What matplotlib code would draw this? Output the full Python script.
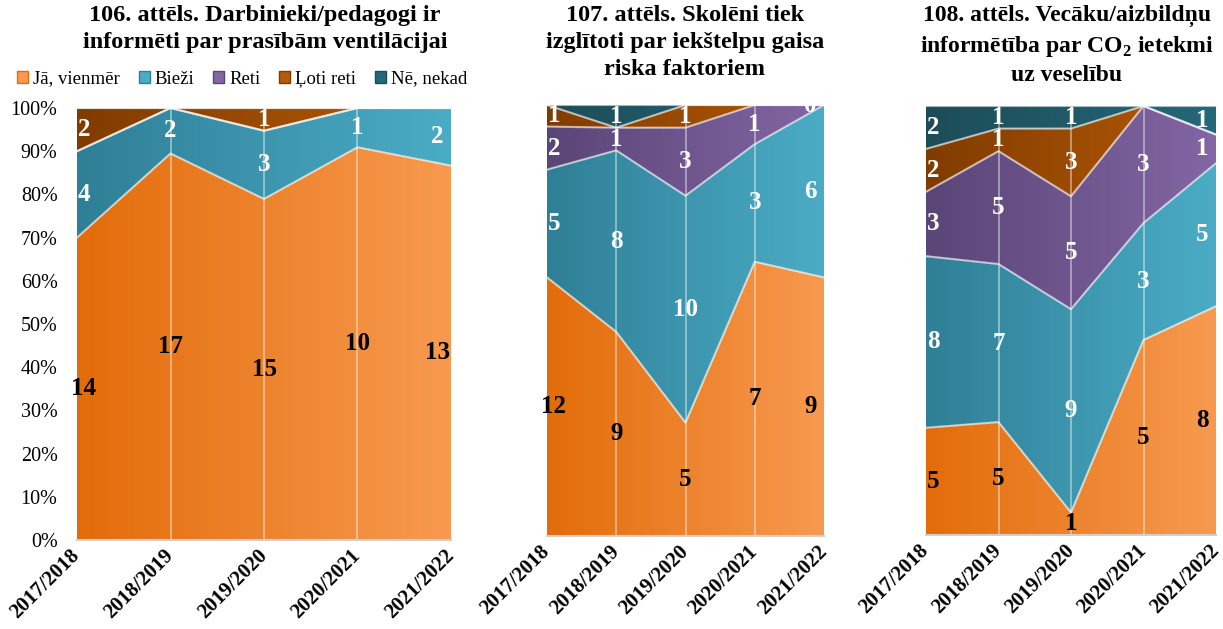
import matplotlib
matplotlib.use("Agg")
import matplotlib.pyplot as plt
import numpy as np
from matplotlib.colors import LinearSegmentedColormap
from matplotlib.patches import Patch

plt.rcParams['font.family'] = ['Liberation Serif', 'DejaVu Serif']

years = ['2017/2018', '2018/2019', '2019/2020', '2020/2021', '2021/2022']
series_names = ['Jā, vienmēr', 'Bieži', 'Reti', 'Ļoti reti', 'Nē, nekad']
nan = np.nan

# counts per chart (nan = no label in the original)
c106_ja = [14, 17, 15, 10, 13]
c106_biezi = [4, 2, 3, 1, 2]
c106_reti = [nan, nan, nan, nan, nan]
c106_loti = [2, nan, 1, nan, nan]
c106_ne = [nan, nan, nan, nan, nan]

c107_ja = [12, 9, 5, 7, 9]
c107_biezi = [5, 8, 10, 3, 6]
c107_reti = [2, 1, 3, 1, 0]
c107_loti = [1, nan, 1, nan, nan]
c107_ne = [nan, 1, nan, nan, nan]

c108_ja = [5, 5, 1, 5, 8]
c108_biezi = [8, 7, 9, 3, 5]
c108_reti = [3, 5, 5, 3, 1]
c108_loti = [2, 1, 3, nan, nan]
c108_ne = [2, 1, 1, nan, 1]

titles = ['106. attēls. Darbinieki/pedagogi ir\ninformēti par prasībām ventilācijai',
          '107. attēls. Skolēni tiek\nizglītoti par iekštelpu gaisa\nriska faktoriem',
          '108. attēls. Vecāku/aizbildņu\ninformētība par CO$_\\mathregular{2}$ ietekmi\nuz veselību']

# gradient colours (left, right) per series
grad = [('#E36C0A', '#F79A50'),
        ('#2F7F96', '#4BACC6'),
        ('#5A4577', '#8366A4'),
        ('#7F3C00', '#B75A06'),
        ('#1D4C58', '#24687A')]
label_colors = ['black', 'white', 'white', 'white', 'white']


def draw_chart(ax, data):
    arr = np.array(data, dtype=float)
    vals = np.nan_to_num(arr)
    totals = vals.sum(axis=0)
    share = vals / totals
    cum = np.vstack([np.zeros(len(years)), np.cumsum(share, axis=0)])
    x = np.arange(len(years))
    for i in range(len(series_names)):
        poly = ax.fill_between(x, cum[i], cum[i + 1], facecolor='none', edgecolor='none')
        cmap = LinearSegmentedColormap.from_list('g%d' % i, grad[i])
        im = ax.imshow(np.linspace(0, 1, 256).reshape(1, -1), cmap=cmap, aspect='auto',
                       extent=[0, 4, 0, 1], origin='lower', zorder=1)
        im.set_clip_path(poly.get_paths()[0], transform=ax.transData)
    for i in range(1, len(cum)):
        ax.plot(x, cum[i], color='white', alpha=0.6, lw=1.5, zorder=3)
    for xi in x[1:-1]:
        ax.axvline(xi, color='white', alpha=0.45, lw=1.3, zorder=2)
    for i in range(len(series_names)):
        for j in x:
            if np.isnan(arr[i, j]):
                continue
            mid = (cum[i, j] + cum[i + 1, j]) / 2
            dx = 5 if j == 0 else (-10 if j == len(x) - 1 else 0)
            ax.annotate('%d' % arr[i, j], (j, mid), xytext=(dx, 0), textcoords='offset points',
                        ha='center', va='center', fontsize=18, fontweight='bold',
                        color=label_colors[i], zorder=5)
    ax.set_xlim(0, 4)
    ax.set_ylim(0, 1)
    ax.set_xticks(x)
    ax.set_xticklabels(years, rotation=45, ha='right', va='center', rotation_mode='anchor',
                       fontsize=15, fontweight='bold')
    ax.tick_params(length=0, pad=9)
    for s in ['left', 'top', 'right']:
        ax.spines[s].set_visible(False)
    ax.spines['bottom'].set_color('#d0d0d0')
    ax.spines['bottom'].set_linewidth(1.5)


fig = plt.figure(figsize=(12.23, 6.29), dpi=100)
W, H = 1223, 629
ax1 = fig.add_axes([77 / W, 1 - 540 / H, 374 / W, 432 / H])
ax2 = fig.add_axes([547 / W, 1 - 536 / H, 277 / W, 431 / H])
ax3 = fig.add_axes([926 / W, 1 - 535 / H, 290 / W, 429 / H])

draw_chart(ax1, [c106_ja, c106_biezi, c106_reti, c106_loti, c106_ne])
draw_chart(ax2, [c107_ja, c107_biezi, c107_reti, c107_loti, c107_ne])
draw_chart(ax3, [c108_ja, c108_biezi, c108_reti, c108_loti, c108_ne])

ax1.set_yticks(np.arange(0, 1.01, 0.1))
ax1.set_yticklabels(['%d%%' % v for v in range(0, 101, 10)], fontsize=14.5)
ax1.tick_params(axis='y', pad=14)
for ax in (ax2, ax3):
    ax.set_yticks([])

for cx, t, fs in zip([265, 685, 1067], titles, [17.5, 17.5, 17]):
    fig.text(cx / W, 1 - 5 / H, t, ha='center', va='top', fontsize=fs,
             fontweight='bold', linespacing=1.38)

handles = [Patch(facecolor=grad[i][1], edgecolor=grad[i][0]) for i in range(len(series_names))]
fig.legend(handles, series_names, loc='center', bbox_to_anchor=(242 / W, 1 - 79 / H), ncol=5,
           frameon=False, fontsize=13.5, handlelength=0.6, handleheight=0.6,
           handletextpad=0.25, columnspacing=1.0, borderpad=0)

fig.savefig('out.png', dpi=100)
